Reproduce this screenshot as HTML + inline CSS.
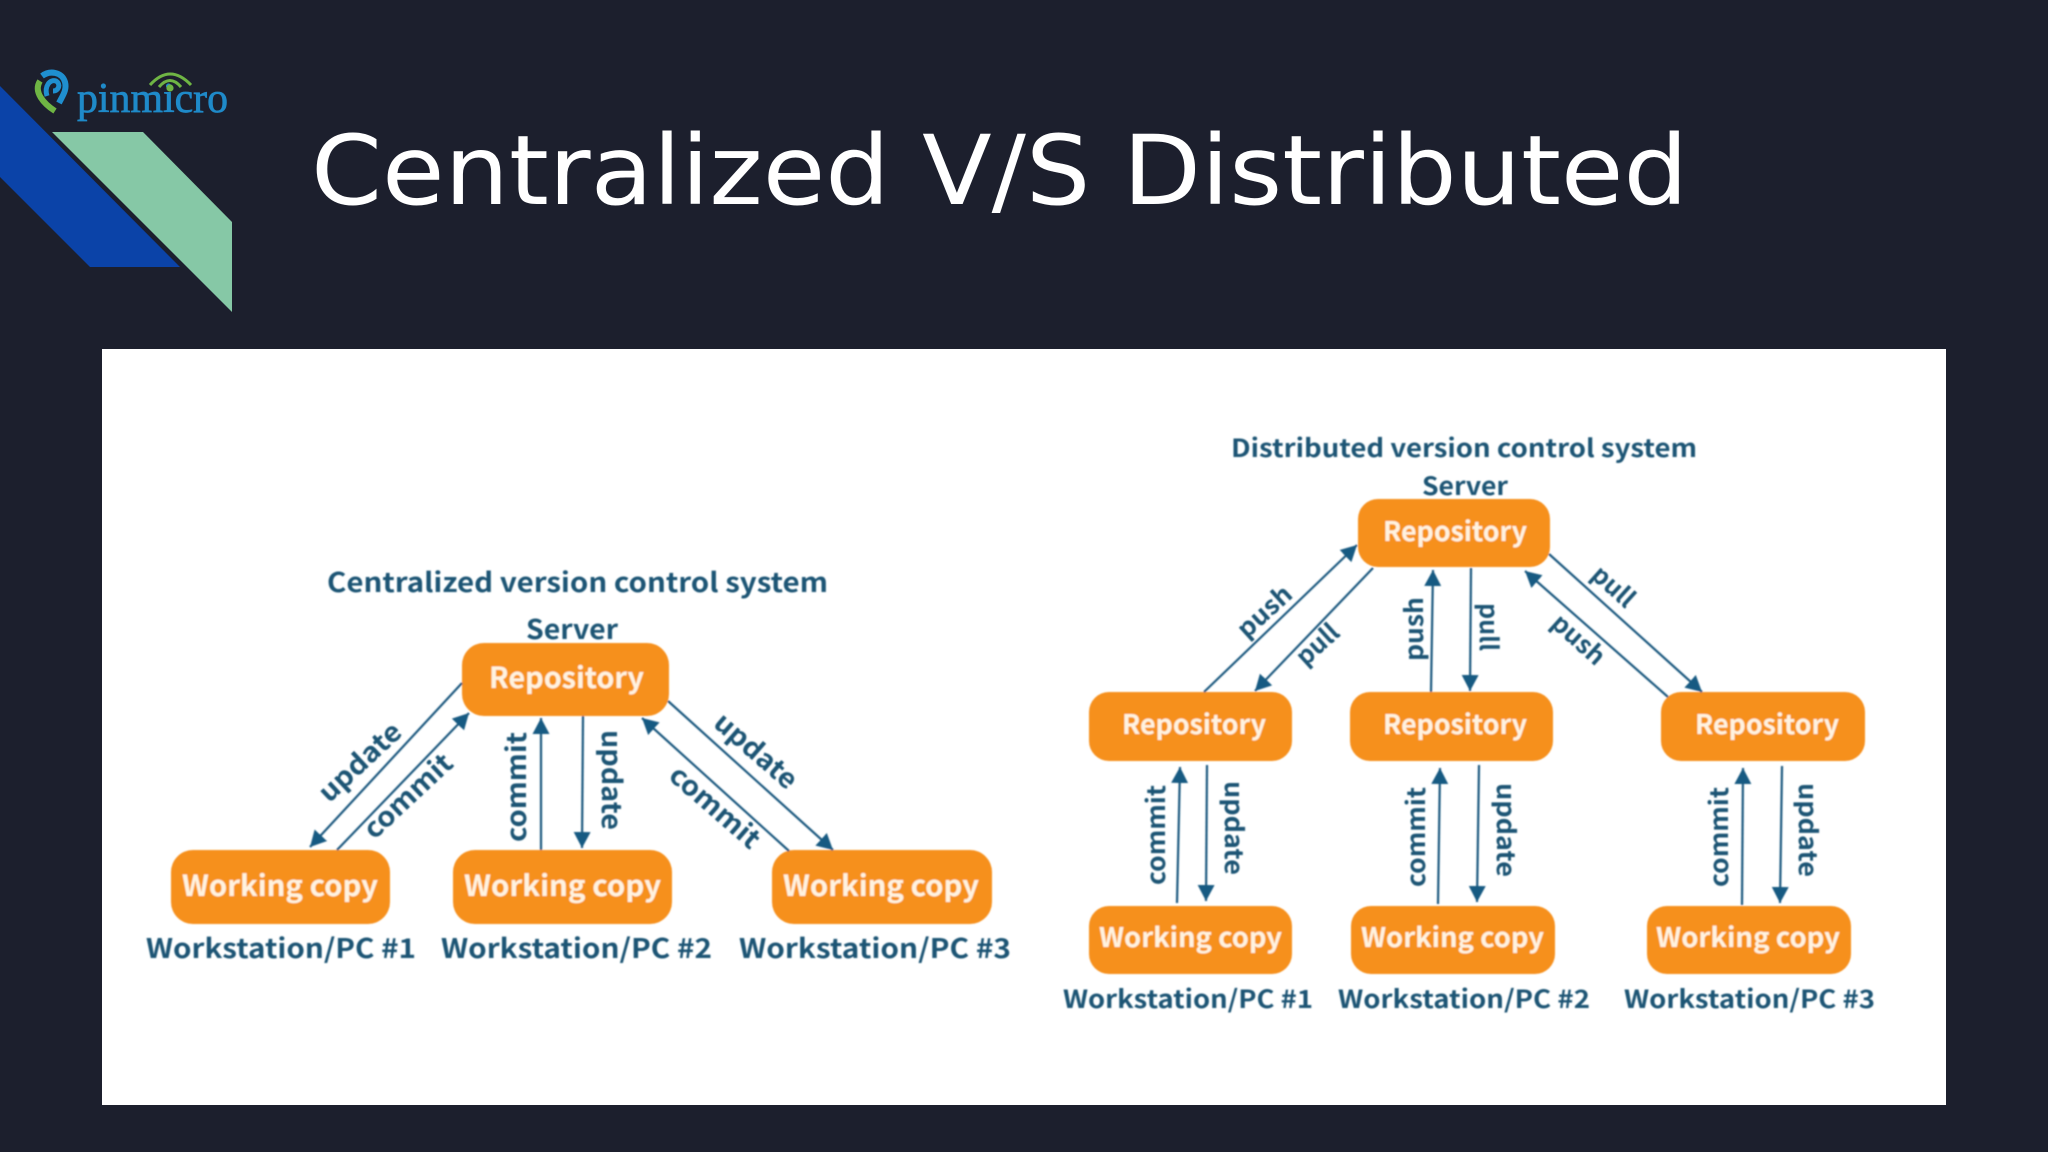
<!DOCTYPE html>
<html><head><meta charset="utf-8"><title>Centralized V/S Distributed</title>
<style>html,body{margin:0;padding:0;background:#1c1f2d;width:2048px;height:1152px;overflow:hidden}svg{display:block}
.d text{font-family:"Noto Sans CJK SC","DejaVu Sans",sans-serif;font-weight:700;fill:#1b5575;font-size:27px}
.d text.w{fill:#fff3e0;font-size:29px}
.d rect{fill:#f6901e}
.d line{stroke:#1d5a80;stroke-width:2.2;marker-end:url(#a)}
</style></head><body>
<svg width="2048" height="1152" viewBox="0 0 2048 1152" xmlns="http://www.w3.org/2000/svg">
<defs>
<marker id="a" markerUnits="userSpaceOnUse" markerWidth="18" markerHeight="18" refX="16" refY="9" orient="auto"><path d="M0 0.5L16 9L0 17.5Z" fill="#175a82"/></marker>
<filter id="b" x="-2%" y="-2%" width="104%" height="104%"><feGaussianBlur stdDeviation="0.8"/></filter>
</defs>
<rect width="2048" height="1152" fill="#1c1f2d"/>
<polygon points="0,86 180,267 90,267 0,177" fill="#0b43a8"/>
<polygon points="52,132 143,132 232,222 232,312" fill="#86c8a6"/>
<path d="M42 76C50 70 62 72 65 82C67 90 63 95 59 103" fill="none" stroke="#1f8fd0" stroke-width="6"/>
<path d="M40 81C33 92 44 104 55 111" fill="none" stroke="#6fb544" stroke-width="6"/>
<path d="M47 96C44 86 50 79 56 81C61 84 59 91 53 91" fill="none" stroke="#1f8fd0" stroke-width="5"/>
<text x="77" y="112" font-family="Liberation Serif,serif" font-weight="400" font-size="42" fill="#1f8ac9" stroke="#1f8ac9" stroke-width="0.7" textLength="151" lengthAdjust="spacingAndGlyphs">pinmicro</text>
<g fill="none" stroke="#6fb544" stroke-width="3"><path d="M150 85Q170 63 191 85"/><path d="M159 87Q170 74 181 87"/></g>
<circle cx="170" cy="88" r="3.6" fill="#6fb544"/>
<text x="311" y="204" font-family="DejaVu Sans,sans-serif" font-size="96" fill="#fff" textLength="1377" lengthAdjust="spacingAndGlyphs">Centralized V/S Distributed</text>
<rect x="102" y="349" width="1844" height="756" fill="#fff"/>
<g class="d" filter="url(#b)">
<rect x="462" y="643" width="207" height="73" rx="22"/>
<rect x="171" y="850" width="219" height="74" rx="22"/>
<rect x="453" y="850" width="219" height="74" rx="22"/>
<rect x="772" y="850" width="220" height="74" rx="22"/>
<rect x="1358" y="499" width="192" height="68" rx="20"/>
<rect x="1089" y="692" width="203" height="69" rx="20"/>
<rect x="1350" y="692" width="203" height="69" rx="20"/>
<rect x="1661" y="692" width="204" height="69" rx="20"/>
<rect x="1089" y="906" width="203" height="68" rx="20"/>
<rect x="1351" y="906" width="204" height="68" rx="20"/>
<rect x="1647" y="906" width="204" height="68" rx="20"/>

<line x1="462" y1="683" x2="310" y2="847"/>
<line x1="337" y1="850" x2="469" y2="713"/>
<line x1="541" y1="850" x2="541" y2="718"/>
<line x1="583" y1="716" x2="582" y2="848"/>
<line x1="789" y1="851" x2="642" y2="718"/>
<line x1="668" y1="701" x2="833" y2="850"/>
<line x1="1204" y1="692" x2="1357" y2="545"/>
<line x1="1373" y1="568" x2="1255" y2="691"/>
<line x1="1431" y1="692" x2="1433" y2="570"/>
<line x1="1471" y1="568" x2="1470" y2="691"/>
<line x1="1668" y1="697" x2="1525" y2="571"/>
<line x1="1549" y1="554" x2="1702" y2="692"/>
<line x1="1177" y1="903" x2="1180" y2="767"/>
<line x1="1207" y1="765" x2="1206" y2="901"/>
<line x1="1438" y1="904" x2="1440" y2="768"/>
<line x1="1479" y1="765" x2="1477" y2="902"/>
<line x1="1742" y1="905" x2="1743" y2="768"/>
<line x1="1782" y1="766" x2="1780" y2="903"/>

<text x="327" y="592" textLength="501" lengthAdjust="spacingAndGlyphs">Centralized version control system</text>
<text x="526" y="639" textLength="92" lengthAdjust="spacingAndGlyphs">Server</text>
<text class="w" x="489" y="688" textLength="155" lengthAdjust="spacingAndGlyphs">Repository</text>
<text class="w" x="182" y="896" textLength="196" lengthAdjust="spacingAndGlyphs">Working copy</text>
<text class="w" x="464" y="896" textLength="197" lengthAdjust="spacingAndGlyphs">Working copy</text>
<text class="w" x="783" y="896" textLength="196" lengthAdjust="spacingAndGlyphs">Working copy</text>
<text x="146" y="958" textLength="270" lengthAdjust="spacingAndGlyphs">Workstation/PC #1</text>
<text x="441" y="958" textLength="271" lengthAdjust="spacingAndGlyphs">Workstation/PC #2</text>
<text x="739" y="958" textLength="272" lengthAdjust="spacingAndGlyphs">Workstation/PC #3</text>

<text x="1231" y="457" textLength="466" lengthAdjust="spacingAndGlyphs" style="font-size:25px">Distributed version control system</text>
<text x="1422" y="495" textLength="86" lengthAdjust="spacingAndGlyphs" style="font-size:25px">Server</text>
<text class="w" x="1383" y="541" textLength="144" lengthAdjust="spacingAndGlyphs" style="font-size:27px">Repository</text>
<text class="w" x="1122" y="734" textLength="144" lengthAdjust="spacingAndGlyphs" style="font-size:27px">Repository</text>
<text class="w" x="1383" y="734" textLength="144" lengthAdjust="spacingAndGlyphs" style="font-size:27px">Repository</text>
<text class="w" x="1695" y="734" textLength="144" lengthAdjust="spacingAndGlyphs" style="font-size:27px">Repository</text>
<text class="w" x="1099" y="947" textLength="183" lengthAdjust="spacingAndGlyphs" style="font-size:27px">Working copy</text>
<text class="w" x="1361" y="947" textLength="183" lengthAdjust="spacingAndGlyphs" style="font-size:27px">Working copy</text>
<text class="w" x="1656" y="947" textLength="184" lengthAdjust="spacingAndGlyphs" style="font-size:27px">Working copy</text>
<text x="1063" y="1008" textLength="250" lengthAdjust="spacingAndGlyphs" style="font-size:25px">Workstation/PC #1</text>
<text x="1338" y="1008" textLength="252" lengthAdjust="spacingAndGlyphs" style="font-size:25px">Workstation/PC #2</text>
<text x="1624" y="1008" textLength="251" lengthAdjust="spacingAndGlyphs" style="font-size:25px">Workstation/PC #3</text>

<g>
<text transform="translate(361 763) rotate(-43)" y="8" x="-51" textLength="102" lengthAdjust="spacingAndGlyphs">update</text>
<text transform="translate(409 797) rotate(-43)" y="8" x="-55" textLength="110" lengthAdjust="spacingAndGlyphs">commit</text>
<text transform="translate(518 787) rotate(-90)" y="8" x="-55" textLength="110" lengthAdjust="spacingAndGlyphs">commit</text>
<text transform="translate(610 780) rotate(90)" y="8" x="-50" textLength="100" lengthAdjust="spacingAndGlyphs">update</text>
<text transform="translate(755 752) rotate(41)" y="8" x="-50" textLength="100" lengthAdjust="spacingAndGlyphs">update</text>
<text transform="translate(714 808) rotate(41)" y="8" x="-55" textLength="110" lengthAdjust="spacingAndGlyphs">commit</text>
<text transform="translate(1265 612) rotate(-42)" y="8" x="-32" textLength="64" lengthAdjust="spacingAndGlyphs" style="font-size:25px">push</text>
<text transform="translate(1318 645) rotate(-42)" y="8" x="-24" textLength="48" lengthAdjust="spacingAndGlyphs" style="font-size:25px">pull</text>
<text transform="translate(1415 629) rotate(-90)" y="8" x="-32" textLength="64" lengthAdjust="spacingAndGlyphs" style="font-size:25px">push</text>
<text transform="translate(1488 627) rotate(90)" y="8" x="-24" textLength="48" lengthAdjust="spacingAndGlyphs" style="font-size:25px">pull</text>
<text transform="translate(1613 587) rotate(42)" y="8" x="-24" textLength="48" lengthAdjust="spacingAndGlyphs" style="font-size:25px">pull</text>
<text transform="translate(1578 640) rotate(42)" y="8" x="-31" textLength="62" lengthAdjust="spacingAndGlyphs" style="font-size:25px">push</text>
<text transform="translate(1157 835) rotate(-90)" y="8" x="-50" textLength="100" lengthAdjust="spacingAndGlyphs" style="font-size:25px">commit</text>
<text transform="translate(1233 828) rotate(90)" y="8" x="-47" textLength="94" lengthAdjust="spacingAndGlyphs" style="font-size:25px">update</text>
<text transform="translate(1417 837) rotate(-90)" y="8" x="-50" textLength="100" lengthAdjust="spacingAndGlyphs" style="font-size:25px">commit</text>
<text transform="translate(1505 830) rotate(90)" y="8" x="-47" textLength="94" lengthAdjust="spacingAndGlyphs" style="font-size:25px">update</text>
<text transform="translate(1720 837) rotate(-90)" y="8" x="-50" textLength="100" lengthAdjust="spacingAndGlyphs" style="font-size:25px">commit</text>
<text transform="translate(1807 830) rotate(90)" y="8" x="-47" textLength="94" lengthAdjust="spacingAndGlyphs" style="font-size:25px">update</text>
</g>
</g>
</svg>
</body></html>
